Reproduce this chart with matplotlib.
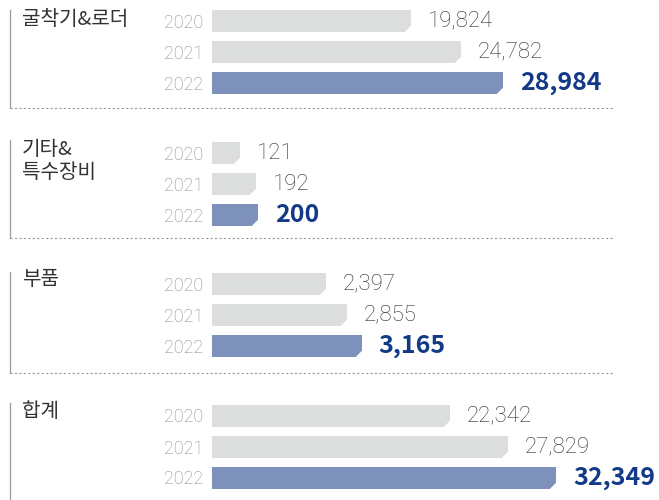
import matplotlib.pyplot as plt
from matplotlib.path import Path
from matplotlib.lines import Line2D

plt.rcParams['font.family'] = ['Noto Sans CJK KR', 'DejaVu Sans']

# 데이터
categories = ['굴착기&로더', '기타&\n특수장비', '부품', '합계']
years = ['2020', '2021', '2022']
excavator = [19824, 24782, 28984]
special = [121, 192, 200]
parts = [2397, 2855, 3165]
total = [22342, 27829, 32349]
values = [excavator, special, parts, total]

# 그룹마다 축 범위가 다름
xmax = [44500, 1940, 9430, 42000]

W, H = 659, 500
gray = '#dcdedd'
blue = '#7d91bb'
thin = ['Roboto', 'Noto Sans CJK KR']


def fx(px):
    return px / W


def fy(py):
    return 1 - py / H


# 막대 오른쪽 아래 모서리를 깎는 흰 삼각형
cut = Path([(0.2, -0.2), (-1.2, -0.2), (0.2, 1.2), (0.2, -0.2)])

fig = plt.figure(figsize=(W / 100, H / 100), dpi=100)

mid = [52, 184, 315, 446.5]   # 2021 막대 중심 (px)
row = 31
bh = 22 / 31

for i, vals in enumerate(values):
    ax = fig.add_axes([fx(212), fy(mid[i] + 1.5 * row), 447 / W, 3 * row / H])
    ypos = [2, 1, 0]
    ax.barh(ypos, vals, height=bh, color=[gray, gray, blue])
    ax.plot(vals, [y - bh / 2 for y in ypos], ls='none', marker=cut, ms=12,
            mfc='white', mec='white', mew=0.3, clip_on=False)
    ax.set_xlim(0, xmax[i])
    ax.set_ylim(-0.5, 2.5)
    ax.set_yticks(ypos, years)
    ax.tick_params(axis='y', length=0, pad=6.5, labelsize=13, labelcolor='#8a8a8a')
    for lab in ax.get_yticklabels():
        lab.set_family(thin)
        lab.set_fontweight('light')
    ax.set_xticks([])
    for s in ax.spines.values():
        s.set_visible(False)
    for j, (v, y) in enumerate(zip(vals, ypos)):
        if j == 2:
            ax.annotate(f'{v:,}', (v, y), xytext=(12, 0), textcoords='offset points',
                        va='center', ha='left', fontsize=18, fontweight='bold',
                        color='#123a87', annotation_clip=False)
        else:
            ax.annotate(f'{v:,}', (v, y), xytext=(12, 0), textcoords='offset points',
                        va='center', ha='left', fontsize=16, fontweight='light',
                        family=thin, color='#2e2e2e', annotation_clip=False)

# 구분선
tops = [10, 140, 272, 403]
bottoms = [108, 238, 373, 500]
for t, b in zip(tops, bottoms):
    fig.add_artist(Line2D([fx(10), fx(10)], [fy(t), fy(b)], transform=fig.transFigure,
                          color='#9a9a9a', lw=0.9))
for b in bottoms[:3]:
    fig.add_artist(Line2D([fx(10), fx(613)], [fy(b), fy(b)], transform=fig.transFigure,
                          color='#9a9a9a', lw=0.8, ls=(0, (2, 2))))

label_top = [9, 139, 269, 401]
for cat, t in zip(categories, label_top):
    fig.text(fx(22), fy(t), cat, va='top', ha='left', fontsize=14.5,
             color='#333333', linespacing=1.1)

fig.savefig('out.png', dpi=100)
